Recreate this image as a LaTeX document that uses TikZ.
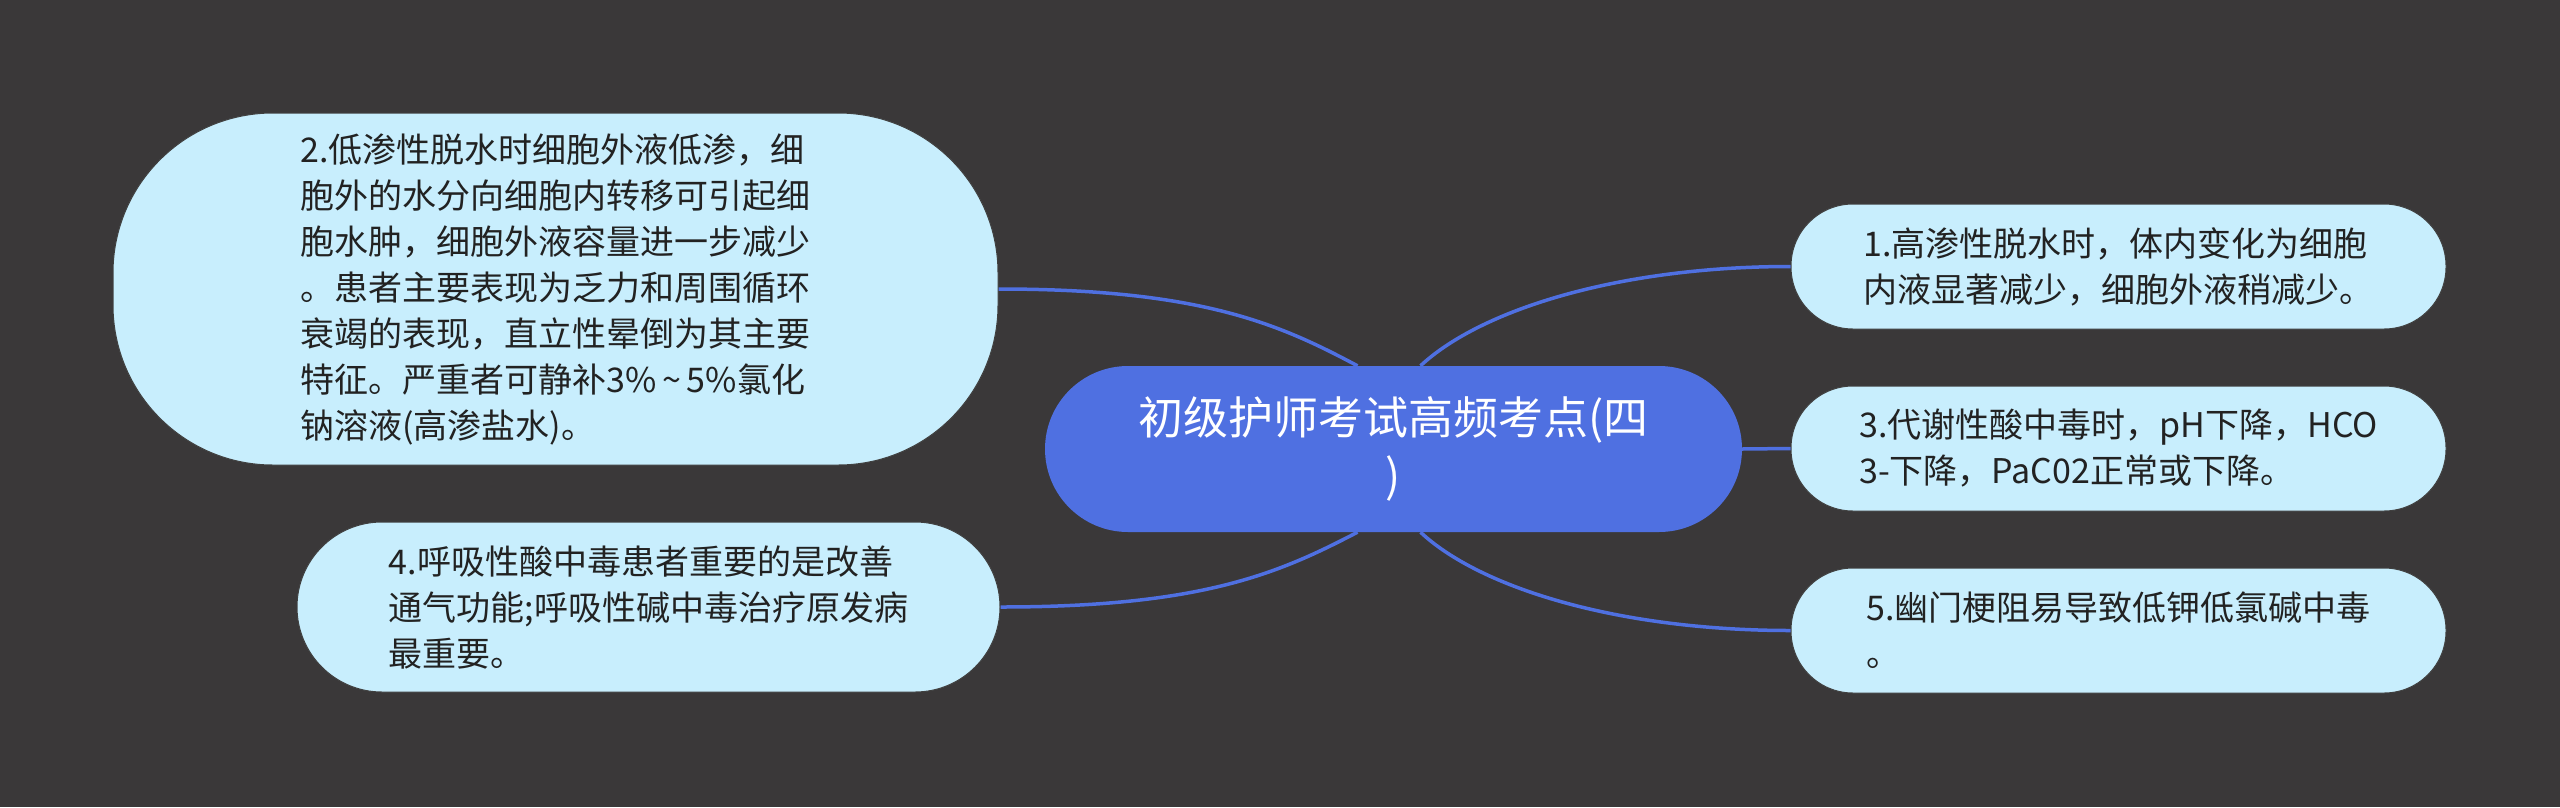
\documentclass[tikz,border=0pt]{standalone}
\usepackage{fontspec}
\setmainfont{Noto Sans CJK SC}
\usepackage{xcolor}
\definecolor{boardgray}{RGB}{58,56,57}
\definecolor{topicblue}{RGB}{79,112,225}
\definecolor{leafcyan}{RGB}{200,238,253}
\definecolor{leafink}{RGB}{34,34,34}
\usepackage{tikz}
\usetikzlibrary{positioning,calc}

\begin{document}
\begin{tikzpicture}[x=1pt, y=-1pt]
        \tikzset{
          topic/.style={fill=topicblue, text=white, inner sep=0pt, align=center,
                        minimum width=697pt, minimum height=166pt, rounded corners=83pt,
                        font=\fontsize{45}{58}\selectfont},
          leaf/.style={fill=leafcyan, draw=black!75, line width=1pt, text=leafink,
                       inner sep=0pt, align=left, font=\fontsize{34}{46}\selectfont},
          link/.style={draw=topicblue, line width=3.5pt}
        }
        % Background
        \fill[boardgray] (0,0) rectangle (2560,807);
        \useasboundingbox (0,0) rectangle (2560,807);
        % Central topic
        \node[topic] (root) at (1393.5,449) {初级护师考试高频考点(四\\)};
        \coordinate (rootNW) at ([xshift=-36pt]root.north);
        \coordinate (rootNE) at ([xshift=27pt]root.north);
        \coordinate (rootSW) at ([xshift=-36pt]root.south);
        \coordinate (rootSE) at ([xshift=27pt]root.south);
        % Left branches
        \node[leaf, minimum width=885pt, minimum height=352pt, rounded corners=160pt]
          (b2) at (555.5,289) {2.低渗性脱水时细胞外液低渗，细\\胞外的水分向细胞内转移可引起细\\胞水肿，细胞外液容量进一步减少\\。患者主要表现为乏力和周围循环\\衰竭的表现，直立性晕倒为其主要\\特征。严重者可静补3\%\,\textasciitilde\,5\%氯化\\钠溶液(高渗盐水)。};
        \node[leaf, minimum width=703pt, minimum height=170pt, rounded corners=85pt]
          (b4) at (648.5,607) {4.呼吸性酸中毒患者重要的是改善\\通气功能;呼吸性碱中毒治疗原发病\\最重要。};
        % Right branches
        \foreach \n/\y/\txt in {1/266.5/{1.高渗性脱水时，体内变化为细胞\\内液显著减少，细胞外液稍减少。},
                                3/448.5/{3.代谢性酸中毒时，pH下降，HCO\\3-下降，PaC02正常或下降。},
                                5/630.5/{5.幽门梗阻易导致低钾低氯碱中毒\\。}} {
          \node[leaf, minimum width=655pt, minimum height=125pt, rounded corners=62pt]
            (b\n) at (2118.5,\y) {\txt};
        }
        % Connections
        \draw[link] (b2.east) .. controls +(204,0) and +(-77,-41) .. (rootNW);
        \draw[link] (b4.east) .. controls +(204,0) and +(-77,40) .. (rootSW);
        \draw[link] (rootNE) .. controls +(60,-56) and +(-172,0) .. (b1.west);
        \draw[link] (root.east) -- (b3.west);
        \draw[link] (rootSE) .. controls +(60,56) and +(-172,0) .. (b5.west);
      \end{tikzpicture}
\end{document}
